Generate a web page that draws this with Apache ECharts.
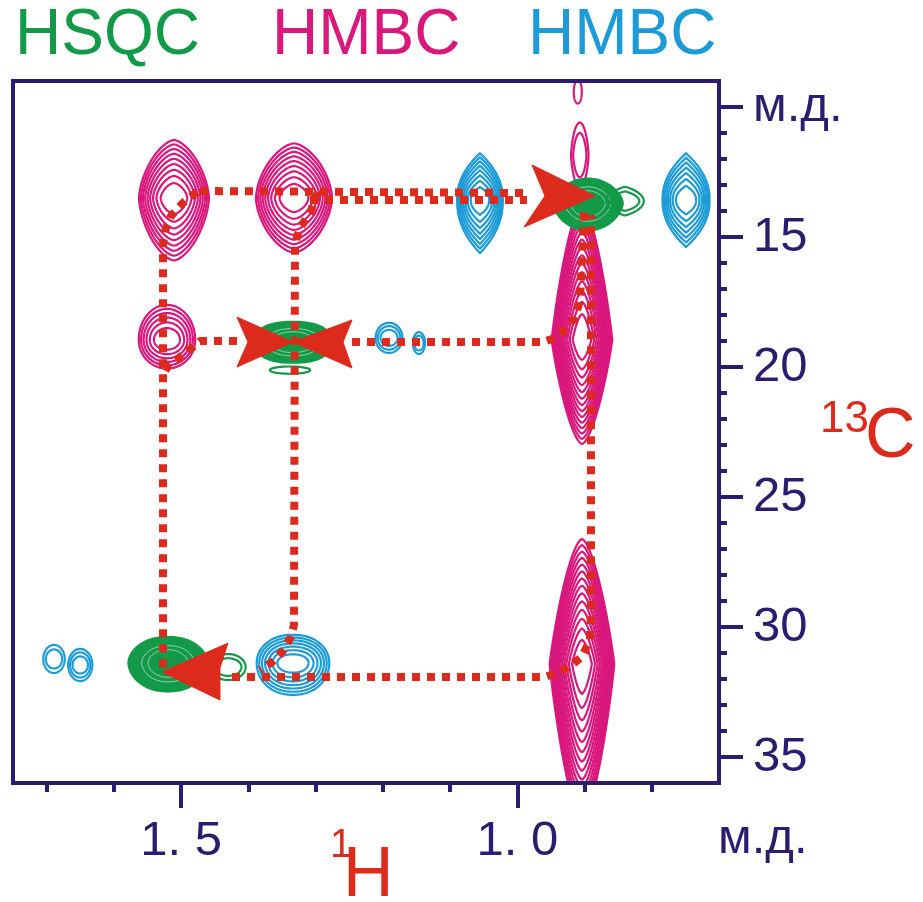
<!DOCTYPE html>
<html>
<head>
<meta charset="utf-8">
<style>
  html, body { margin: 0; padding: 0; background: #ffffff; }
  #chart { width: 923px; height: 902px; }
</style>
<script src="https://cdn.jsdelivr.net/npm/echarts@6/dist/echarts.min.js"></script>
</head>
<body>
<div id="chart"></div>
<script>
// ---- Peak tables: [1H ppm, 13C ppm, half-width 1H, extent up 13C, extent down 13C, x-exponent, y-exponent, contour levels]
const hsqcPeaks = [
  [1.5195, 31.38, 0.059, 1.00, 1.10, 2.2, 1.8, 5],
  [1.3336, 19.04, 0.060, 0.78, 0.80, 2.4, 2.0, 5],
  [0.8950, 13.70, 0.052, 0.95, 1.05, 2.0, 1.6, 5]
];
const hsqcWeakPeaks = [
  [1.4300, 31.54, 0.026, 0.50, 0.50, 2.0, 2.0, 2],
  [1.3380, 20.12, 0.030, 0.14, 0.14, 2.0, 2.0, 1],
  [0.8398, 13.62, 0.028, 0.55, 0.55, 1.2, 2.0, 2]
];
const hmbcPinkPeaks = [
  [1.5106, 13.50, 0.052, 2.23, 2.40, 1.6, 1.6, 9],
  [1.3321, 13.50, 0.0565, 2.10, 2.10, 1.6, 1.7, 9],
  [1.5210, 18.96, 0.042, 1.35, 1.10, 2.0, 2.0, 6],
  [0.9038, 18.96, 0.045, 5.20, 4.00, 1.6, 1.1, 14],
  [0.9038, 31.42, 0.048, 4.80, 6.00, 1.6, 1.1, 14],
  [0.9070, 11.85, 0.013, 1.25, 1.25, 2.0, 1.5, 2],
  [0.9100, 9.42, 0.006, 0.45, 0.45, 2.0, 2.0, 1]
];
const hmbcBluePeaks = [
  [1.0555, 13.58, 0.034, 1.80, 2.04, 1.0, 2.2, 8],
  [0.7490, 13.58, 0.035, 1.80, 1.80, 1.0, 2.2, 7],
  [1.1908, 18.88, 0.020, 0.58, 0.58, 2.0, 2.0, 3],
  [1.1462, 19.08, 0.009, 0.42, 0.42, 2.0, 2.0, 2],
  [1.3336, 31.38, 0.054, 1.08, 1.23, 2.2, 2.0, 7],
  [1.6890, 31.23, 0.016, 0.54, 0.54, 2.0, 2.0, 2],
  [1.6500, 31.46, 0.018, 0.62, 0.62, 2.0, 2.0, 3]
];

// ---- Correlation paths (dotted), points as [1H ppm, 13C ppm]
const pathTopA = [[1.4719, 13.23], [0.9856, 13.31]];
const pathTopB = [[1.3083, 13.58], [0.9856, 13.58]];
const pathLeft = [[1.4764, 13.27], [1.4972, 13.69], [1.5150, 14.19], [1.5239, 14.77], [1.5269, 15.31], [1.5269, 31.73]];
const pathMiddle = [[1.2964, 13.27], [1.3083, 14.08], [1.3232, 14.65], [1.3306, 15.23], [1.3321, 29.92],
                    [1.3366, 30.38], [1.3485, 30.92], [1.3648, 31.35], [1.3827, 31.65]];
const pathBottom = [[1.4243, 31.92], [0.9588, 31.92], [0.9410, 31.77], [0.9216, 31.50], [0.9038, 31.15],
                    [0.8919, 30.50], [0.8904, 29.30], [0.8904, 14.15]];
const pathRowLeft = [[1.4169, 19.00], [1.4719, 19.00], [1.4823, 19.23], [1.5016, 19.62], [1.5195, 19.96], [1.5269, 20.31]];
const pathRowRight = [[1.2458, 19.04], [0.9618, 19.04], [0.9484, 18.92], [0.9320, 18.62], [0.9142, 18.12],
                      [0.9068, 17.42], [0.9038, 15.88], [0.9008, 13.96]];

// ---- Arrowheads: tip, back corner 1, notch, back corner 2 (each [1H, 13C])
const arrowHeads = [
  [0.8845, 13.42, 0.9781, 12.23, 0.9588, 13.42, 0.9900, 14.62],
  [1.3336, 19.04, 1.4169, 18.08, 1.4005, 19.04, 1.4169, 20.00],
  [1.3336, 19.04, 1.2458, 18.19, 1.2592, 19.04, 1.2458, 20.04],
  [1.5284, 31.73, 1.4303, 30.62, 1.4422, 31.58, 1.4422, 32.81]
];

// ---- Axis ticks
const xMinorTicks = [0.8, 0.9, 1.0, 1.1, 1.2, 1.3, 1.4, 1.5, 1.6, 1.7];
const xMajorTicks = [1.0, 1.5];
const yMinorTicks = [10, 11, 12, 13, 14, 15, 16, 17, 18, 19, 20, 21, 22, 23, 24, 25, 26, 27, 28, 29, 30, 31, 32, 33, 34, 35];
const yMajorTicks = [10, 15, 20, 25, 30, 35];

const NAVY = '#2b1c6f';
const RED = '#dc2a1c';
const GREEN = '#139a48';
const PINK = '#d9177d';
const BLUE = '#1b9bd7';
const FONT = '"Liberation Sans", Arial, sans-serif';

// Nested contour rings of one peak; inner rings flatten a little vertically
function contourRenderer(color, mode) {
  return function (params, api) {
    const H = api.value(0), C = api.value(1);
    const a = api.value(2), bu = api.value(3), bd = api.value(4);
    const nx = api.value(5), ny = api.value(6), L = api.value(7);
    const c = api.coord([H, C]);
    const ax = Math.abs(api.size([a, 0])[0]);
    const byU = Math.abs(api.size([0, bu])[1]);
    const byD = Math.abs(api.size([0, bd])[1]);
    const children = [];
    for (let k = 0; k < L; k++) {
      const s = Math.sqrt(1 - k / (L + 0.35));
      const sy = mode === 'fill' ? s : Math.pow(s, 1.4);
      const pts = [];
      for (let i = 0; i < 120; i++) {
        const t = i / 120 * 2 * Math.PI;
        const ct = Math.cos(t), st = Math.sin(t);
        const ex = Math.sign(ct) * Math.pow(Math.abs(ct), 2 / nx);
        const ey = Math.sign(st) * Math.pow(Math.abs(st), 2 / ny);
        pts.push([c[0] + ax * s * ex, c[1] + (ey < 0 ? byU : byD) * sy * ey]);
      }
      let style;
      if (mode === 'fill') {
        if (k === 0) style = { fill: color, stroke: color, lineWidth: 2 };
        else if (k >= L - 2) style = { fill: null, stroke: 'rgba(255,255,255,0.55)', lineWidth: 1 };
        else continue;
      } else {
        style = { fill: null, stroke: color, lineWidth: 2.2 };
      }
      children.push({ type: 'polygon', shape: { points: pts }, style: style });
    }
    return { type: 'group', children: children };
  };
}

function arrowRenderer(params, api) {
  const pts = [];
  for (let i = 0; i < 4; i++) pts.push(api.coord([api.value(2 * i), api.value(2 * i + 1)]));
  return { type: 'polygon', shape: { points: pts }, style: { fill: RED, stroke: RED, lineWidth: 1 } };
}

function contourSeries(data, color, mode, z) {
  return {
    type: 'custom', xAxisIndex: 0, yAxisIndex: 0, clip: true, z: z,
    renderItem: contourRenderer(color, mode),
    encode: { x: 0, y: 1 },
    data: data
  };
}

function dottedSeries(data) {
  return {
    type: 'line', xAxisIndex: 0, yAxisIndex: 0, z: 5, clip: true,
    symbol: 'none', showSymbol: false, smooth: false,
    lineStyle: { color: RED, width: 8, type: [8, 7], cap: 'butt' },
    data: data
  };
}

const chart = echarts.init(document.getElementById('chart'), null, { renderer: 'canvas' });

const axisLineStyle = { color: NAVY, width: 4, cap: 'square' };

chart.setOption({
  animation: false,
  backgroundColor: '#ffffff',
  grid: { left: 13, top: 81, width: 706, height: 702, outerBoundsMode: 'none', containLabel: false },
  xAxis: [
    {
      type: 'value', min: 0.7, max: 1.75, inverse: true, position: 'bottom', z: 10,
      axisLine: { show: true, lineStyle: axisLineStyle },
      axisTick: { show: true, customValues: xMinorTicks, length: 9, lineStyle: { color: NAVY, width: 4 } },
      axisLabel: { show: false }, splitLine: { show: false }
    },
    {
      type: 'value', min: 0.7, max: 1.75, inverse: true, position: 'bottom', z: 10,
      axisLine: { show: false },
      axisTick: { show: true, customValues: xMajorTicks, length: 25, lineStyle: { color: NAVY, width: 4 } },
      axisLabel: {
        show: true, customValues: xMajorTicks, margin: 34, color: NAVY, fontSize: 49, fontFamily: FONT,
        formatter: function (v) { return Math.abs(v - 1.5) < 1e-6 ? '1. 5' : '1. 0'; }
      },
      splitLine: { show: false }
    },
    {
      type: 'value', min: 0.7, max: 1.75, inverse: true, position: 'top', z: 10,
      axisLine: { show: true, lineStyle: axisLineStyle },
      axisTick: { show: false }, axisLabel: { show: false }, splitLine: { show: false }
    }
  ],
  yAxis: [
    {
      type: 'value', min: 9, max: 36, inverse: true, position: 'right', z: 10,
      axisLine: { show: true, lineStyle: axisLineStyle },
      axisTick: { show: true, customValues: yMinorTicks, length: 8, lineStyle: { color: NAVY, width: 4 } },
      axisLabel: { show: false }, splitLine: { show: false }
    },
    {
      type: 'value', min: 9, max: 36, inverse: true, position: 'right', z: 10,
      axisLine: { show: false },
      axisTick: { show: true, customValues: yMajorTicks, length: 24, lineStyle: { color: NAVY, width: 4 } },
      axisLabel: {
        show: true, customValues: yMajorTicks, margin: 34, color: NAVY, fontSize: 49, fontFamily: FONT,
        formatter: function (v) { return v === 10 ? 'м.д.' : String(v); }
      },
      splitLine: { show: false }
    },
    {
      type: 'value', min: 9, max: 36, inverse: true, position: 'left', z: 10,
      axisLine: { show: true, lineStyle: axisLineStyle },
      axisTick: { show: false }, axisLabel: { show: false }, splitLine: { show: false }
    }
  ],
  series: [
    contourSeries(hmbcPinkPeaks, PINK, 'line', 2),
    contourSeries(hmbcBluePeaks, BLUE, 'line', 3),
    contourSeries(hsqcPeaks, GREEN, 'fill', 4),
    contourSeries(hsqcWeakPeaks, GREEN, 'line', 4),
    dottedSeries(pathTopA),
    dottedSeries(pathTopB),
    dottedSeries(pathLeft),
    dottedSeries(pathMiddle),
    dottedSeries(pathBottom),
    dottedSeries(pathRowLeft),
    dottedSeries(pathRowRight),
    {
      type: 'custom', xAxisIndex: 0, yAxisIndex: 0, clip: true, z: 6,
      renderItem: arrowRenderer,
      encode: { x: [0, 2, 4, 6], y: [1, 3, 5, 7] },
      data: arrowHeads
    }
  ],
  graphic: [
    { type: 'text', x: 15, y: 4, style: { text: 'HSQC', font: '64px ' + FONT, fill: GREEN, verticalAlign: 'top' } },
    { type: 'text', x: 272, y: 4, style: { text: 'HMBC', font: '64px ' + FONT, fill: PINK, verticalAlign: 'top' } },
    { type: 'text', x: 528, y: 4, style: { text: 'HMBC', font: '64px ' + FONT, fill: BLUE, verticalAlign: 'top' } },
    { type: 'text', x: 330, y: 826, style: { text: '1', font: '40px ' + FONT, fill: RED, verticalAlign: 'top' } },
    { type: 'text', x: 343, y: 842, style: { text: 'H', font: '70px ' + FONT, fill: RED, verticalAlign: 'top' } },
    { type: 'text', x: 820, y: 398, style: { text: '13', font: '44px ' + FONT, fill: RED, verticalAlign: 'top' } },
    { type: 'text', x: 865, y: 403, style: { text: 'C', font: '70px ' + FONT, fill: RED, verticalAlign: 'top' } },
    { type: 'text', x: 718, y: 815, style: { text: 'м.д.', font: '49px ' + FONT, fill: NAVY, verticalAlign: 'top' } }
  ]
});
</script>
</body>
</html>
